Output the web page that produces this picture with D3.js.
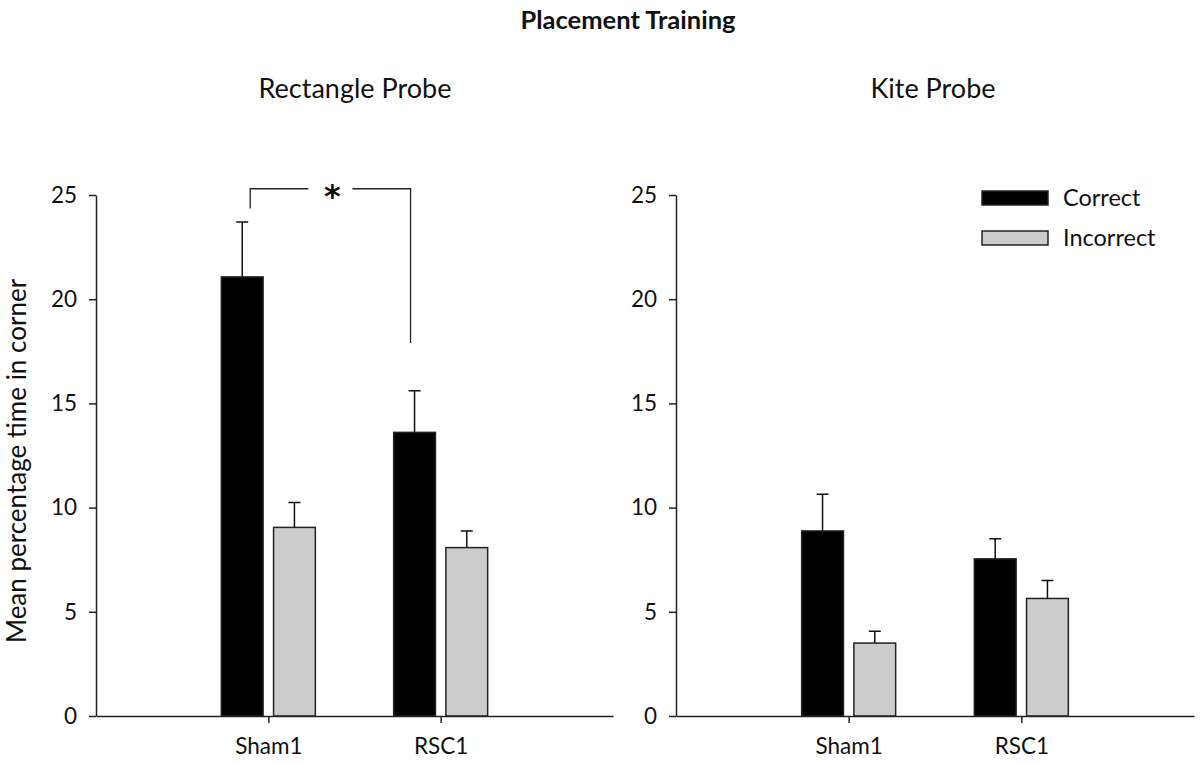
<!DOCTYPE html>
<html>
<head>
<meta charset="utf-8">
<script src="https://cdn.jsdelivr.net/npm/d3@7"></script>
<style>
  body { margin: 0; background: #fff; }
  svg { display: block; font-family: Lato, "Open Sans", sans-serif; }
  .axis path, .axis line { stroke: #222; stroke-width: 1.5px; }
  .axis text { font-family: Lato, sans-serif; font-size: 22.5px; fill: #111; }
</style>
</head>
<body>
<svg id="chart" width="1200" height="765"></svg>
<script>
// categories and series
const groups = ["Sham1", "RSC1"];
const series = ["Correct", "Incorrect"];
const yTicks = [0, 5, 10, 15, 20, 25];

// Rectangle probe: means and SEM
const rectCorrect = [21.07, 13.61];
const rectCorrectSem = [2.63, 2.0];
const rectIncorrect = [9.05, 8.08];
const rectIncorrectSem = [1.19, 0.8];

// Kite probe: means and SEM
const kiteCorrect = [8.88, 7.54];
const kiteCorrectSem = [1.76, 0.96];
const kiteIncorrect = [3.5, 5.64];
const kiteIncorrectSem = [0.57, 0.86];

// significance bracket (y values in data units)
const sigTop = 25.3;
const sigLeftEnd = 24.35;
const sigRightEnd = 17.9;

const colors = { Correct: "#000000", Incorrect: "#cccccc" };

const svg = d3.select("#chart");

// y scale shared by both panels
const y = d3.scaleLinear().domain([0, 25]).range([716, 195]);

// build rows for a panel
const makeRows = (correct, correctSem, incorrect, incorrectSem) => {
  const rows = [];
  groups.forEach((g, i) => {
    rows.push({ group: g, series: "Correct", value: correct[i], sem: correctSem[i] });
    rows.push({ group: g, series: "Incorrect", value: incorrect[i], sem: incorrectSem[i] });
  });
  return rows;
};

const drawPanel = function (x0, x1, rows, title, titleX) {
  const x = d3.scalePoint().domain(groups).range([x0, x1]).padding(1);
  const x1s = d3.scaleBand().domain(series).range([-47, 47]).paddingInner(0.2);

  const g = svg.append("g");

  // bars
  g.selectAll(".bar")
    .data(rows)
    .enter().append("rect")
    .attr("class", "bar")
    .attr("x", d => x(d.group) + x1s(d.series))
    .attr("y", d => y(d.value))
    .attr("width", x1s.bandwidth())
    .attr("height", d => y(0) - y(d.value))
    .attr("fill", d => colors[d.series])
    .attr("stroke", "#222")
    .attr("stroke-width", 1.5);

  // error bars (upper only)
  const cx = d => x(d.group) + x1s(d.series) + x1s.bandwidth() / 2;
  g.selectAll(".err")
    .data(rows)
    .enter().append("path")
    .attr("class", "err")
    .attr("fill", "none")
    .attr("stroke", "#111")
    .attr("stroke-width", 1.5)
    .attr("d", d => {
      const top = y(d.value + d.sem);
      return `M${cx(d)},${y(d.value)}V${top}M${cx(d) - 6},${top}H${cx(d) + 6}`;
    });

  // axes
  g.append("g")
    .attr("class", "axis")
    .attr("transform", `translate(${x0},0)`)
    .call(d3.axisLeft(y).tickValues(yTicks).tickSize(7).tickSizeOuter(0).tickPadding(12));

  const xa = g.append("g")
    .attr("class", "axis")
    .attr("transform", `translate(0,${y(0)})`)
    .call(d3.axisBottom(x).tickSize(7).tickSizeOuter(0));
  xa.selectAll("text").attr("y", 38).attr("dy", 0);

  svg.append("text")
    .attr("x", titleX)
    .attr("y", 98)
    .attr("text-anchor", "middle")
    .attr("font-size", 27)
    .attr("fill", "#111")
    .text(title);

  return { x, x1s };
};

const left = drawPanel(96, 613,
  makeRows(rectCorrect, rectCorrectSem, rectIncorrect, rectIncorrectSem),
  "Rectangle Probe", 355);
drawPanel(676, 1194,
  makeRows(kiteCorrect, kiteCorrectSem, kiteIncorrect, kiteIncorrectSem),
  "Kite Probe", 933);

// significance bracket between Sham1 and RSC1 correct bars
const bw = left.x1s.bandwidth();
const bxL = left.x("Sham1") + left.x1s("Correct") + bw / 2 + 8;
const bxR = left.x("RSC1") + left.x1s("Correct") + bw / 2 - 4;
const starX = (bxL + bxR) / 2 + 2;
svg.append("path")
  .attr("fill", "none")
  .attr("stroke", "#222")
  .attr("stroke-width", 1.3)
  .attr("d", `M${bxL},${y(sigLeftEnd)}V${y(sigTop)}H${starX - 24}` +
             `M${starX + 20},${y(sigTop)}H${bxR}V${y(sigRightEnd)}`);
svg.append("text")
  .attr("x", starX)
  .attr("y", y(sigTop) + 18)
  .attr("text-anchor", "middle")
  .attr("font-family", "'DejaVu Sans', sans-serif")
  .attr("font-size", 32)
  .attr("font-weight", "bold")
  .attr("fill", "#111")
  .text("*");

// main title
svg.append("text")
  .attr("x", 628)
  .attr("y", 29)
  .attr("text-anchor", "middle")
  .attr("font-size", 25.5)
  .attr("font-weight", "bold")
  .attr("fill", "#111")
  .text("Placement Training");

// y axis label
svg.append("text")
  .attr("transform", "translate(26,461) rotate(-90)")
  .attr("text-anchor", "middle")
  .attr("font-size", 26)
  .attr("fill", "#111")
  .text("Mean percentage time in corner");

// legend
const legend = svg.append("g");
series.forEach((s, i) => {
  legend.append("rect")
    .attr("x", 982)
    .attr("y", 191 + i * 40)
    .attr("width", 66)
    .attr("height", 14)
    .attr("fill", colors[s])
    .attr("stroke", "#222")
    .attr("stroke-width", 1.5);
  legend.append("text")
    .attr("x", 1063)
    .attr("y", 206 + i * 40)
    .attr("font-size", 23.5)
    .attr("fill", "#111")
    .text(s);
});
</script>
</body>
</html>
